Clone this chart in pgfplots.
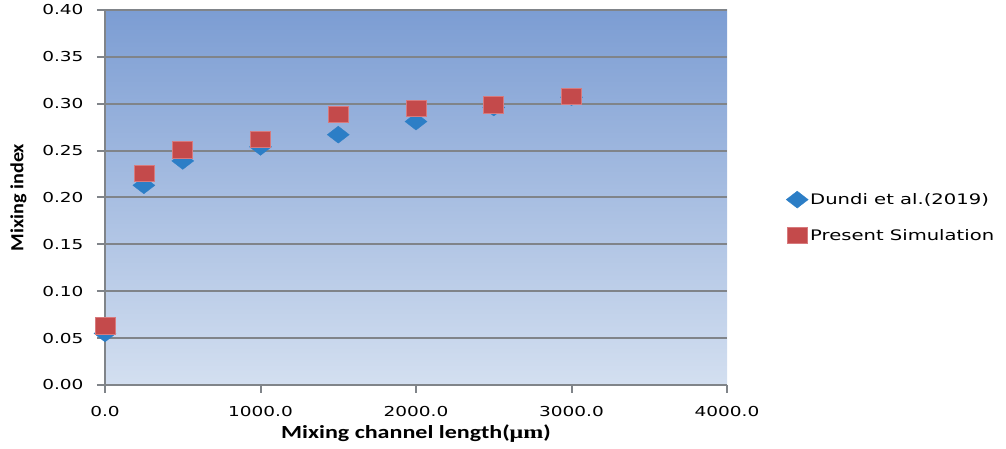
\documentclass[border=0pt]{standalone}
\usepackage{fontspec}
\usepackage{pgfplots}
\pgfplotsset{compat=1.18}

\newfontfamily\tickfont{DejaVu Sans}[FakeStretch=1.35]
\newfontfamily\labfont{Carlito}[FakeStretch=1.3]
\newfontfamily\ylabfont{Carlito}[FakeStretch=1.09]
\newfontfamily\mufont{Liberation Serif}[FakeStretch=1.3]

\definecolor{gridgray}{HTML}{808489}
\definecolor{bgtop}{HTML}{7C9DD3}
\definecolor{bgbot}{HTML}{D3DFF0}
\definecolor{dundi}{HTML}{2C7EC6}
\definecolor{simred}{HTML}{C44A4B}
\definecolor{simedge}{HTML}{D77A7D}

\begin{document}
\begin{tikzpicture}
\useasboundingbox (0,0) rectangle (1006pt,449pt);
\begin{axis}[
  at={(105pt,64pt)}, anchor=south west,
  scale only axis, width=622pt, height=375pt,
  xmin=0, xmax=4000, ymin=0, ymax=0.40,
  xtick={0,1000,2000,3000,4000},
  ytick={0,0.05,...,0.40},
  axis x line*=bottom, axis y line*=left,
  axis line style={gridgray, line width=2pt},
  tick style={gridgray, line width=2pt},
  tick align=outside, major tick length=8pt,
  ymajorgrids, grid style={gridgray, line width=2pt},
  axis background/.style={shade, top color=bgtop, bottom color=bgbot},
  /pgf/number format/assume math mode=true,
  tick label style={font=\tickfont\fontsize{13.7}{16}\selectfont},
  xticklabel style={yshift=-10pt, /pgf/number format/.cd, fixed, fixed zerofill, precision=1, 1000 sep={}},
  yticklabel style={xshift=-10pt, /pgf/number format/.cd, fixed, fixed zerofill, precision=2},
  xlabel={\labfont\bfseries Mixing channel length({\mufont\bfseries μm})},
  ylabel={\ylabfont\bfseries Mixing index},
  label style={font=\fontsize{18.5}{20}\selectfont},
  xlabel style={yshift=-1pt},
  ylabel style={yshift=9pt},
  legend style={at={(1.09,0.447)}, anchor=west, draw=none, fill=none,
    font=\tickfont\fontsize{14.5}{17}\selectfont, row sep=19pt,
    legend cell align=left},
  legend image code/.code={\path[#1] plot coordinates {(5pt,0pt)};},
  clip=false,
]
% Dundi et al. (2019)
\addplot[only marks, mark=diamond*, mark size=8.5pt,
  mark options={xscale=1.73, fill=dundi, draw=dundi, line width=0.3pt}]
  coordinates {
  (0,0.055) (250,0.213) (500,0.239) (1000,0.254)
  (1500,0.267) (2000,0.281) (2500,0.296) (3000,0.307)
};
\addlegendentry{Dundi et al.(2019)}
% Present simulation
\addplot[only marks, mark=square*, mark size=10pt,
  mark options={yscale=0.82, fill=simred, draw=simedge, line width=0.6pt}]
  coordinates {
  (0,0.063) (250,0.226) (500,0.251) (1000,0.262)
  (1500,0.289) (2000,0.295) (2500,0.299) (3000,0.308)
};
\addlegendentry{Present Simulation}
\end{axis}
\end{tikzpicture}
\end{document}
